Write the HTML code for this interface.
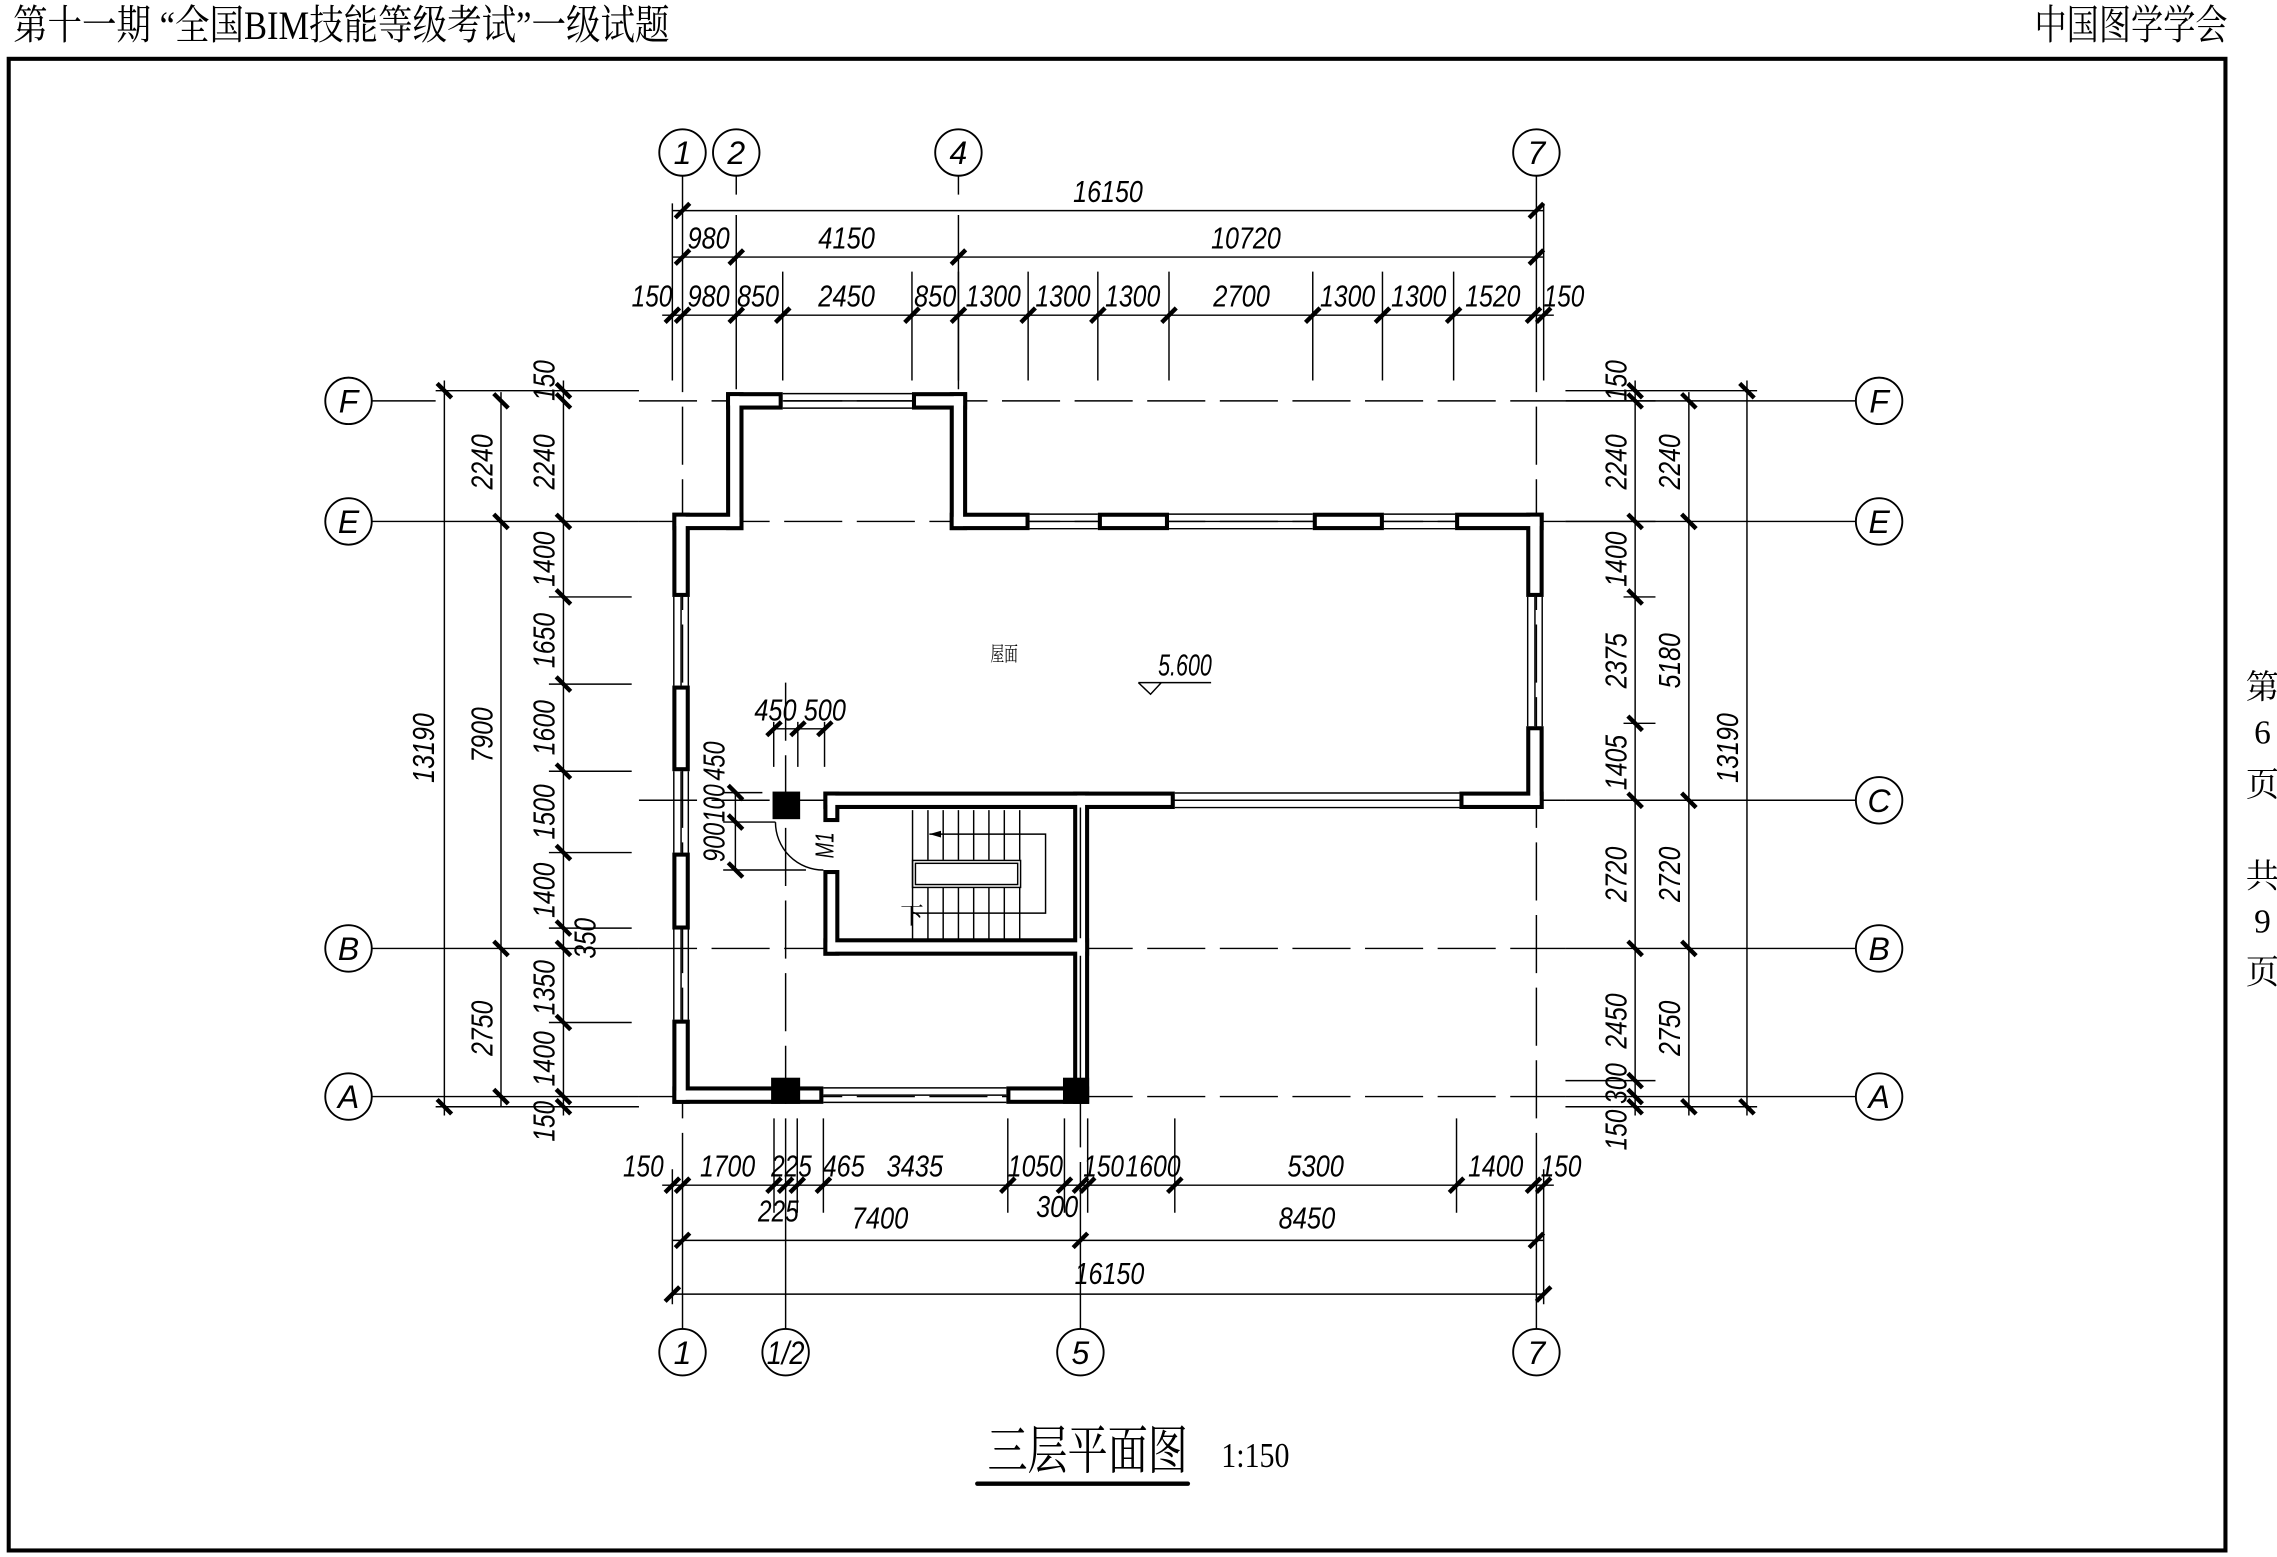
<!DOCTYPE html>
<html><head><meta charset="utf-8"><style>
html,body{margin:0;padding:0;background:#fff;}
svg{display:block;}
.d{font-family:"Liberation Sans",sans-serif;font-style:italic;font-size:21px;fill:#000;}
.g{font-family:"Liberation Sans",sans-serif;font-style:italic;font-size:22px;fill:#000;text-anchor:middle;}
.cj{font-family:"Liberation Serif","Noto Serif CJK SC",serif;fill:#000;}
</style></head><body>
<svg width="2277" height="1557" viewBox="0 0 1568 1072" preserveAspectRatio="none" xmlns="http://www.w3.org/2000/svg">
<rect width="1568" height="1072" fill="#fff"/>
<!-- header -->
<text class="cj" x="9" y="27" font-size="28" textLength="452" lengthAdjust="spacingAndGlyphs">第十一期 “全国BIM技能等级考试”一级试题</text>
<text class="cj" x="1401" y="27" font-size="28" textLength="133" lengthAdjust="spacingAndGlyphs">中国图学学会</text>
<rect x="6" y="40.5" width="1526.5" height="1027" fill="none" stroke="#000" stroke-width="2.8"/>
<g class="cj" font-size="23" text-anchor="middle">
<text x="1558" y="481">第</text><text x="1558" y="512">6</text><text x="1558" y="548">页</text>
<text x="1558" y="611">共</text><text x="1558" y="642">9</text><text x="1558" y="677">页</text>
</g>

<!-- grid lines -->
<g stroke="#000" stroke-width="1" fill="none">
<path d="M256 276H300 M256 359H440 M256 653H440 M256 755H440 M1078 276H1278 M1078 359H1278 M1078 551H1278 M1078 653H1278 M1078 755H1278"/>
<path d="M1078 276H1140 M1078 359H1140"/>
<g stroke-dasharray="40 10">
<path d="M440 276H1078 M440 359H1078 M440 551H1078 M440 653H1078 M440 755H1078"/>
<path d="M470 230V800 M1058 230V800 M541 470V800 M744 600V800"/>
</g>
<path d="M470 121V230 M507 121V134 M507 148V268 M660 121V134 M660 148V268 M1058 121V230"/>
<path d="M470 800V915 M541 800V915 M744 800V915 M1058 800V915"/>
<path d="M463 140V262 M1063 140V262 M463 805V898 M1063 805V898"/>
</g>

<!-- grid circles -->
<g fill="#fff" stroke="#000" stroke-width="1.3">
<circle cx="470" cy="105" r="16"/><circle cx="507" cy="105" r="16"/><circle cx="660" cy="105" r="16"/><circle cx="1058" cy="105" r="16"/>
<circle cx="470" cy="931" r="16"/><circle cx="541" cy="931" r="16"/><circle cx="744" cy="931" r="16"/><circle cx="1058" cy="931" r="16"/>
<circle cx="240" cy="276" r="16"/><circle cx="240" cy="359" r="16"/><circle cx="240" cy="653" r="16"/><circle cx="240" cy="755" r="16"/>
<circle cx="1294" cy="276" r="16"/><circle cx="1294" cy="359" r="16"/><circle cx="1294" cy="551" r="16"/><circle cx="1294" cy="653" r="16"/><circle cx="1294" cy="755" r="16"/>
</g>
<g class="g">
<text x="470" y="113">1</text><text x="507" y="113">2</text><text x="660" y="113">4</text><text x="1058" y="113">7</text>
<text x="470" y="939">1</text><text x="541" y="939" textLength="26" lengthAdjust="spacingAndGlyphs">1/2</text><text x="744" y="939">5</text><text x="1058" y="939">7</text>
<text x="240" y="284">F</text><text x="240" y="367">E</text><text x="240" y="661">B</text><text x="240" y="763">A</text>
<text x="1294" y="284">F</text><text x="1294" y="367">E</text><text x="1294" y="559">C</text><text x="1294" y="661">B</text><text x="1294" y="763">A</text>
</g>

<!-- dimension lines -->
<g stroke="#000" stroke-width="1" fill="none">
<path d="M463 145H1063 M463 177H1063 M456 217H1070"/>
<path d="M456 816H1070 M463 854H1063 M463 891H1063"/>
<path d="M306 262V768 M345 270V762 M388 262V768"/>
<path d="M1126 262V768 M1163 270V768 M1203 262V768"/>
<path d="M539 187V262 M628 187V262 M708 187V262 M756 187V262 M805 187V262 M904 187V262 M952 187V262 M1001 187V262 M660 187V262"/>
<path d="M533 770V835 M549 770V835 M567 770V835 M694 770V835 M733 770V835 M749 770V835 M809 770V835 M1003 770V835"/>
<path d="M300 269H440 M300 762H440 M378 411H435 M378 471H435 M378 531H435 M378 587H435 M378 639H435 M378 704H435"/>
<path d="M1078 269H1210 M1078 762H1210 M1078 744H1140 M1118 411H1140 M1118 498H1140"/>
</g>
<!-- ticks -->
<g stroke="#000" stroke-width="3">
<path d="M465 150L475 140 M1053 150L1063 140"/>
<path d="M465 182L475 172 M502 182L512 172 M655 182L665 172 M1053 182L1063 172"/>
<path d="M458 222L468 212 M465 222L475 212 M502 222L512 212 M534 222L544 212 M623 222L633 212 M655 222L665 212 M703 222L713 212 M751 222L761 212 M800 222L810 212 M899 222L909 212 M947 222L957 212 M996 222L1006 212 M1051 222L1061 212 M1058 222L1068 212"/>
<path d="M458 821L468 811 M465 821L475 811 M528 821L538 811 M536 821L546 811 M544 821L554 811 M562 821L572 811 M689 821L699 811 M728 821L738 811 M739 821L749 811 M744 821L754 811 M804 821L814 811 M998 821L1008 811 M1051 821L1061 811 M1058 821L1068 811"/>
<path d="M465 859L475 849 M739 859L749 849 M1053 859L1063 849"/>
<path d="M458 896L468 886 M1058 896L1068 886"/>
<path d="M301 264L311 274 M301 757L311 767"/>
<path d="M340 271L350 281 M340 354L350 364 M340 648L350 658 M340 750L350 760"/>
<path d="M383 264L393 274 M383 271L393 281 M383 354L393 364 M383 406L393 416 M383 466L393 476 M383 526L393 536 M383 582L393 592 M383 634L393 644 M383 648L393 658 M383 699L393 709 M383 750L393 760 M383 757L393 767"/>
<path d="M1121 264L1131 274 M1121 271L1131 281 M1121 354L1131 364 M1121 406L1131 416 M1121 493L1131 503 M1121 546L1131 556 M1121 648L1131 658 M1121 739L1131 749 M1121 750L1131 760 M1121 757L1131 767"/>
<path d="M1158 271L1168 281 M1158 354L1168 364 M1158 546L1168 556 M1158 648L1168 658 M1158 757L1168 767"/>
<path d="M1198 264L1208 274 M1198 757L1208 767"/>
</g>

<g class="d" text-anchor="middle">
<text x="763" y="139" textLength="48" lengthAdjust="spacingAndGlyphs">16150</text>
<text x="488" y="171" textLength="29" lengthAdjust="spacingAndGlyphs">980</text>
<text x="583" y="171" textLength="39" lengthAdjust="spacingAndGlyphs">4150</text>
<text x="858" y="171" textLength="48" lengthAdjust="spacingAndGlyphs">10720</text>
<text x="449" y="211" textLength="28" lengthAdjust="spacingAndGlyphs">150</text>
<text x="488" y="211" textLength="29" lengthAdjust="spacingAndGlyphs">980</text>
<text x="522" y="211" textLength="29" lengthAdjust="spacingAndGlyphs">850</text>
<text x="583" y="211" textLength="39" lengthAdjust="spacingAndGlyphs">2450</text>
<text x="644" y="211" textLength="29" lengthAdjust="spacingAndGlyphs">850</text>
<text x="684" y="211" textLength="38" lengthAdjust="spacingAndGlyphs">1300</text>
<text x="732" y="211" textLength="38" lengthAdjust="spacingAndGlyphs">1300</text>
<text x="780" y="211" textLength="38" lengthAdjust="spacingAndGlyphs">1300</text>
<text x="855" y="211" textLength="39" lengthAdjust="spacingAndGlyphs">2700</text>
<text x="928" y="211" textLength="38" lengthAdjust="spacingAndGlyphs">1300</text>
<text x="977" y="211" textLength="38" lengthAdjust="spacingAndGlyphs">1300</text>
<text x="1028" y="211" textLength="38" lengthAdjust="spacingAndGlyphs">1520</text>
<text x="1077" y="211" textLength="28" lengthAdjust="spacingAndGlyphs">150</text>
<text x="443" y="810" textLength="28" lengthAdjust="spacingAndGlyphs">150</text>
<text x="501" y="810" textLength="38" lengthAdjust="spacingAndGlyphs">1700</text>
<text x="545" y="810" textLength="28" lengthAdjust="spacingAndGlyphs">225</text>
<text x="581" y="810" textLength="29" lengthAdjust="spacingAndGlyphs">465</text>
<text x="630" y="810" textLength="39" lengthAdjust="spacingAndGlyphs">3435</text>
<text x="713" y="810" textLength="38" lengthAdjust="spacingAndGlyphs">1050</text>
<text x="760" y="810" textLength="28" lengthAdjust="spacingAndGlyphs">150</text>
<text x="794" y="810" textLength="38" lengthAdjust="spacingAndGlyphs">1600</text>
<text x="906" y="810" textLength="39" lengthAdjust="spacingAndGlyphs">5300</text>
<text x="1030" y="810" textLength="38" lengthAdjust="spacingAndGlyphs">1400</text>
<text x="1075" y="810" textLength="28" lengthAdjust="spacingAndGlyphs">150</text>
<text x="536" y="841" textLength="28" lengthAdjust="spacingAndGlyphs">225</text>
<text x="728" y="838" textLength="29" lengthAdjust="spacingAndGlyphs">300</text>
<text x="606" y="846" textLength="39" lengthAdjust="spacingAndGlyphs">7400</text>
<text x="900" y="846" textLength="39" lengthAdjust="spacingAndGlyphs">8450</text>
<text x="764" y="884" textLength="48" lengthAdjust="spacingAndGlyphs">16150</text>
</g>
<g class="d" text-anchor="middle">
<text transform="translate(299,515) rotate(-90)" textLength="48" lengthAdjust="spacingAndGlyphs">13190</text>
<text transform="translate(339,318) rotate(-90)" textLength="38" lengthAdjust="spacingAndGlyphs">2240</text>
<text transform="translate(339,506) rotate(-90)" textLength="38" lengthAdjust="spacingAndGlyphs">7900</text>
<text transform="translate(339,708) rotate(-90)" textLength="38" lengthAdjust="spacingAndGlyphs">2750</text>
<text transform="translate(382,262) rotate(-90)" textLength="28" lengthAdjust="spacingAndGlyphs">150</text>
<text transform="translate(382,318) rotate(-90)" textLength="38" lengthAdjust="spacingAndGlyphs">2240</text>
<text transform="translate(382,385) rotate(-90)" textLength="38" lengthAdjust="spacingAndGlyphs">1400</text>
<text transform="translate(382,441) rotate(-90)" textLength="38" lengthAdjust="spacingAndGlyphs">1650</text>
<text transform="translate(382,501) rotate(-90)" textLength="38" lengthAdjust="spacingAndGlyphs">1600</text>
<text transform="translate(382,559) rotate(-90)" textLength="38" lengthAdjust="spacingAndGlyphs">1500</text>
<text transform="translate(382,613) rotate(-90)" textLength="38" lengthAdjust="spacingAndGlyphs">1400</text>
<text transform="translate(410,646) rotate(-90)" textLength="28" lengthAdjust="spacingAndGlyphs">350</text>
<text transform="translate(382,680) rotate(-90)" textLength="38" lengthAdjust="spacingAndGlyphs">1350</text>
<text transform="translate(382,729) rotate(-90)" textLength="38" lengthAdjust="spacingAndGlyphs">1400</text>
<text transform="translate(382,772) rotate(-90)" textLength="28" lengthAdjust="spacingAndGlyphs">150</text>
<text transform="translate(1120,262) rotate(-90)" textLength="28" lengthAdjust="spacingAndGlyphs">150</text>
<text transform="translate(1120,318) rotate(-90)" textLength="38" lengthAdjust="spacingAndGlyphs">2240</text>
<text transform="translate(1120,385) rotate(-90)" textLength="38" lengthAdjust="spacingAndGlyphs">1400</text>
<text transform="translate(1120,455) rotate(-90)" textLength="38" lengthAdjust="spacingAndGlyphs">2375</text>
<text transform="translate(1120,525) rotate(-90)" textLength="38" lengthAdjust="spacingAndGlyphs">1405</text>
<text transform="translate(1120,602) rotate(-90)" textLength="38" lengthAdjust="spacingAndGlyphs">2720</text>
<text transform="translate(1120,703) rotate(-90)" textLength="38" lengthAdjust="spacingAndGlyphs">2450</text>
<text transform="translate(1120,746) rotate(-90)" textLength="28" lengthAdjust="spacingAndGlyphs">300</text>
<text transform="translate(1120,778) rotate(-90)" textLength="28" lengthAdjust="spacingAndGlyphs">150</text>
<text transform="translate(1157,318) rotate(-90)" textLength="38" lengthAdjust="spacingAndGlyphs">2240</text>
<text transform="translate(1157,455) rotate(-90)" textLength="38" lengthAdjust="spacingAndGlyphs">5180</text>
<text transform="translate(1157,602) rotate(-90)" textLength="38" lengthAdjust="spacingAndGlyphs">2720</text>
<text transform="translate(1157,708) rotate(-90)" textLength="38" lengthAdjust="spacingAndGlyphs">2750</text>
<text transform="translate(1197,515) rotate(-90)" textLength="48" lengthAdjust="spacingAndGlyphs">13190</text>
</g>

<g stroke="#000" stroke-width="1" fill="none">
<path d="M539 271H628 M539 276H628 M539 281H628"/>
<path d="M709 354H756 M709 359H756 M709 364H756 M805 354H904 M805 359H904 M805 364H904 M953 354H1002 M953 359H1002 M953 364H1002"/>
<path d="M809 546H1005 M809 551H1005 M809 556H1005"/>
<path d="M567 749H693 M567 754H693 M567 759H693"/>
<path d="M464 411V472 M469 411V472 M474 411V472 M464 531V587 M469 531V587 M474 531V587 M464 640V702 M469 640V702 M474 640V702"/>
<path d="M1052 411V500 M1057 411V500 M1062 411V500"/>
<path d="M744 556V748"/>
</g>
<g fill="#000">
<rect x="500" y="270" width="39" height="12"/><rect x="628" y="270" width="38" height="12"/>
<rect x="500" y="270" width="12" height="95"/><rect x="654" y="270" width="12" height="95"/>
<rect x="463" y="353" width="49" height="12"/><rect x="654" y="353" width="55" height="12"/>
<rect x="756" y="353" width="49" height="12"/><rect x="904" y="353" width="49" height="12"/><rect x="1002" y="353" width="61" height="12"/>
<rect x="1051" y="353" width="12" height="58"/><rect x="1051" y="500" width="12" height="57"/><rect x="1005" y="545" width="58" height="12"/>
<rect x="463" y="353" width="12" height="58"/><rect x="463" y="472" width="12" height="59"/><rect x="463" y="587" width="12" height="53"/><rect x="463" y="702" width="12" height="58"/>
<rect x="463" y="748" width="104" height="12"/><rect x="693" y="748" width="57" height="12"/>
<rect x="567" y="545" width="242" height="12"/><rect x="567" y="545" width="11" height="21"/><rect x="567" y="599" width="11" height="59"/>
<rect x="567" y="646" width="183" height="12"/><rect x="739" y="545" width="11" height="215"/>
</g>
<g fill="#fff">
<rect x="502.8" y="272.8" width="33.4" height="6.4"/><rect x="630.8" y="272.8" width="32.4" height="6.4"/>
<rect x="502.8" y="272.8" width="6.4" height="89.4"/><rect x="656.8" y="272.8" width="6.4" height="89.4"/>
<rect x="465.8" y="355.8" width="43.4" height="6.4"/><rect x="656.8" y="355.8" width="49.4" height="6.4"/>
<rect x="758.8" y="355.8" width="43.4" height="6.4"/><rect x="906.8" y="355.8" width="43.4" height="6.4"/><rect x="1004.8" y="355.8" width="55.4" height="6.4"/>
<rect x="1053.8" y="355.8" width="6.4" height="52.4"/><rect x="1053.8" y="502.8" width="6.4" height="51.4"/><rect x="1007.8" y="547.8" width="52.4" height="6.4"/>
<rect x="465.8" y="355.8" width="6.4" height="52.4"/><rect x="465.8" y="474.8" width="6.4" height="53.4"/><rect x="465.8" y="589.8" width="6.4" height="47.4"/><rect x="465.8" y="704.8" width="6.4" height="52.4"/>
<rect x="465.8" y="750.8" width="98.4" height="6.4"/><rect x="695.8" y="750.8" width="51.4" height="6.4"/>
<rect x="569.8" y="547.8" width="236.4" height="6.4"/><rect x="569.8" y="547.8" width="5.4" height="15.4"/><rect x="569.8" y="601.8" width="5.4" height="53.4"/>
<rect x="569.8" y="648.8" width="177.4" height="6.4"/><rect x="741.8" y="547.8" width="5.4" height="209.4"/>
</g>
<g stroke="#000" stroke-width="1"><path d="M744 556V646 M744 658V748"/></g>
<g fill="#000">
<rect x="532" y="545" width="19" height="19"/><rect x="531" y="742" width="20" height="18"/><rect x="732" y="742" width="18" height="18"/>
</g>

<g stroke="#000" stroke-width="1" fill="none">
<path d="M628.4 557.8V646.8 M639 557.8V592 M649.5 557.8V592 M660 557.8V592 M670.5 557.8V592 M681 557.8V592 M691.6 557.8V592 M702.2 557.8V592"/>
<path d="M639 611V646.8 M649.5 611V646.8 M660 611V646.8 M670.5 611V646.8 M681 611V646.8 M691.6 611V646.8 M702.2 611V646.8"/>
<rect x="628.4" y="592.4" width="74.4" height="18.6"/>
<rect x="630.4" y="594.4" width="70.4" height="14.6"/>
<path d="M640 574.3H720 V628.7 H628"/>
<path d="M534 566A33 33 0 0 0 567 599"/>
<path d="M498 545.7H525 M498 566H534 M498 599H555"/>
<path d="M532.8 501.8H567.8 M532.8 497V528 M549.4 497V528 M567.8 497V528"/>
<path d="M506.4 545.7V599"/>
<path d="M783.9 470H834 M783.9 470L792.3 478L799.7 470"/>
</g>
<path d="M640 574.3L648 572V576.6Z" fill="#000"/>
<g stroke="#000" stroke-width="3">
<path d="M528 506.5L538 497 M544.5 506.5L554.5 497 M563 506.5L573 497"/>
<path d="M501.5 540.7L511.5 550.7 M501.5 561L511.5 571 M501.5 594L511.5 604"/>
</g>
<g class="d" text-anchor="middle">
<text x="534" y="496" textLength="29" lengthAdjust="spacingAndGlyphs">450</text>
<text x="568" y="496" textLength="29" lengthAdjust="spacingAndGlyphs">500</text>
<text transform="translate(499,524) rotate(-90)" textLength="27" lengthAdjust="spacingAndGlyphs">450</text>
<text transform="translate(499,553) rotate(-90)" textLength="26" lengthAdjust="spacingAndGlyphs">100</text>
<text transform="translate(499,580) rotate(-90)" textLength="27" lengthAdjust="spacingAndGlyphs">900</text>
<text transform="translate(574,582) rotate(-90)" font-size="18" textLength="18" lengthAdjust="spacingAndGlyphs">M1</text>
<text x="816" y="465" textLength="37" lengthAdjust="spacingAndGlyphs">5.600</text>
</g>
<text class="cj" x="620" y="636" font-size="16">下</text>
<text class="cj" x="682" y="455" font-size="14" textLength="19" lengthAdjust="spacingAndGlyphs">屋面</text>

<text class="cj" x="680" y="1011" font-size="36" textLength="138" lengthAdjust="spacingAndGlyphs">三层平面图</text>
<text class="cj" x="841" y="1010" font-size="24" textLength="47" lengthAdjust="spacingAndGlyphs">1:150</text>
<path d="M673 1021.5H818" stroke="#000" stroke-width="3" stroke-linecap="round"/>
</svg>
</body></html>
